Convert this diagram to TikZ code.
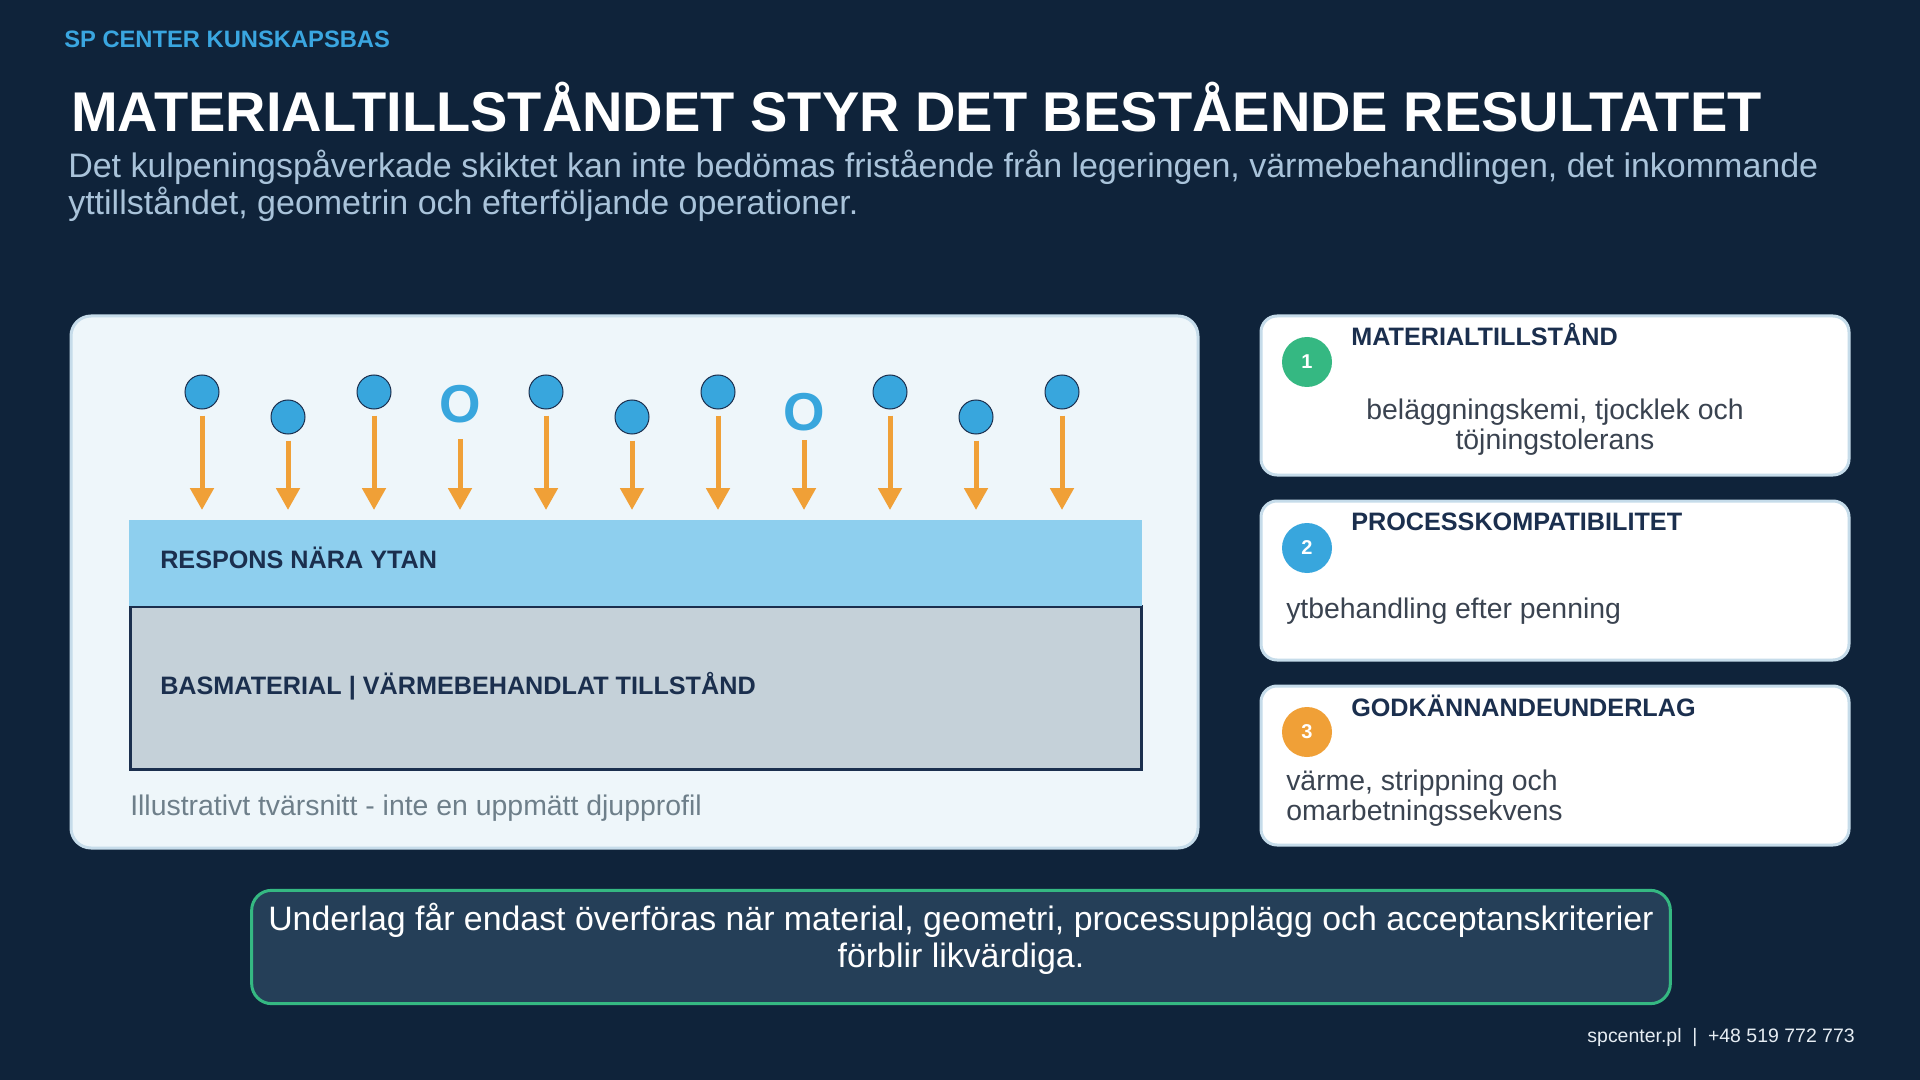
\documentclass[tikz,border=0pt]{standalone}
\usepackage{fontspec}
\setmainfont{Liberation Sans}
\usetikzlibrary{arrows.meta,positioning}

\definecolor{pagebg}{HTML}{0F233A}
\definecolor{kickerblue}{HTML}{3AA6E0}
\definecolor{leadgrey}{HTML}{A9C3DA}
\definecolor{panelfill}{HTML}{EEF6FA}
\definecolor{panelline}{HTML}{C6DCEA}
\definecolor{shotblue}{HTML}{38A6DD}
\definecolor{inknavy}{HTML}{1B2F4E}
\definecolor{hitorange}{HTML}{F0A037}
\definecolor{surfblue}{HTML}{8ECFEE}
\definecolor{coregrey}{HTML}{C5D1D9}
\definecolor{notegrey}{HTML}{6E7F8A}
\definecolor{bodygrey}{HTML}{3A4350}
\definecolor{okgreen}{HTML}{35B882}
\definecolor{bannerfill}{HTML}{253F58}
\definecolor{footwhite}{HTML}{E6EDF3}

\begin{document}
\begin{tikzpicture}[x=0.75pt, y=-0.75pt,
  every node/.style={inner sep=0pt},
  shot/.style={circle, draw=inknavy, line width=0.75pt, fill=shotblue, minimum size=25.5pt},
  miss/.style={text=shotblue, font=\fontsize{40}{40}\selectfont\bfseries},
  hit/.style={draw=hitorange, line width=3.75pt, -{Triangle[length=16.5pt, width=17.25pt]}},
  panel/.style={draw=panelline, line width=2.25pt, fill=panelfill, rounded corners=15pt},
  card/.style={draw=panelline, line width=2.25pt, fill=white, rounded corners=12pt},
  badge/.style={circle, minimum size=37.5pt, text=white, font=\fontsize{15}{15}\selectfont\bfseries},
  cardhead/.style={anchor=base west, text=inknavy, font=\fontsize{18.9}{18.9}\selectfont\bfseries},
  cardbody/.style={text=bodygrey, font=\fontsize{21.3}{22}\selectfont},
  layerlabel/.style={anchor=base west, text=inknavy, font=\fontsize{18.9}{18.9}\selectfont\bfseries}
]
\useasboundingbox[fill=pagebg] (0,0) rectangle (1920,1080);

% header
\node[anchor=base west, text=kickerblue, font=\fontsize{17.8}{17.8}\selectfont\bfseries] (kicker) at (64,48) {SP CENTER KUNSKAPSBAS};
\node[anchor=base west, text=white, font=\fontsize{42}{42}\selectfont\bfseries] (title) at (71,132) {MATERIALTILLSTÅNDET STYR DET BESTÅENDE RESULTATET};
\node[anchor=base west, align=left, text=leadgrey, font=\fontsize{25.5}{27.75}\selectfont] (lead) at (68,215)
  {Det kulpeningspåverkade skiktet kan inte bedömas fristående från legeringen, värmebehandlingen, det inkommande\\
   yttillståndet, geometrin och efterföljande operationer.};

% cross-section
\draw[panel] (71,316) rectangle (1198,848);
\draw[fill=coregrey, draw=inknavy, line width=2.25pt] (130,606) rectangle (1141,769);
\fill[surfblue] (129,520) rectangle (1142,606);
\node[layerlabel] (surflabel) at (160,568) {RESPONS NÄRA YTAN};
\node[layerlabel] (corelabel) at (160,694) {BASMATERIAL | VÄRMEBEHANDLAT TILLSTÅND};
\node[anchor=base west, text=notegrey, font=\fontsize{21.3}{21.3}\selectfont] (note) at (130,815) {Illustrativt tvärsnitt - inte en uppmätt djupprofil};

\foreach \i/\x/\y/\kind/\gap in {1/202/392/shot/4.5pt, 2/288/417/shot/4.5pt, 3/374/392/shot/4.5pt,
    4/460/404/miss/12pt, 5/546/392/shot/4.5pt, 6/632/417/shot/4.5pt, 7/718/392/shot/4.5pt,
    8/804/412/miss/6.75pt, 9/890/392/shot/4.5pt, 10/976/417/shot/4.5pt, 11/1062/392/shot/4.5pt}{
  \node[\kind] (b\i) at (\x,\y) {\ifnum\i=4 O\else\ifnum\i=8 O\fi\fi};
  \coordinate (t\i) at (\x,510);
  \draw[hit, shorten <=\gap] (b\i) -- (t\i);
}

% cards
\draw[card] (1261,316) rectangle (1849,475);
\draw[card] (1261,501) rectangle (1849,660);
\draw[card] (1261,686) rectangle (1849,845);

\node[badge, fill=okgreen] (n1) at (1307,362) {1};
\node[badge, fill=shotblue] (n2) at (1307,548) {2};
\node[badge, fill=hitorange] (n3) at (1307,732) {3};

\node[cardhead] (h1) at (1351,346) {MATERIALTILLSTÅND};
\node[cardhead] (h2) at (1351,530) {PROCESSKOMPATIBILITET};
\node[cardhead] (h3) at (1351,716) {GODKÄNNANDEUNDERLAG};

\node[cardbody, anchor=base, align=center] (d1) at (1555,449) {beläggningskemi, tjocklek och\\töjningstolerans};
\node[cardbody, anchor=base west] (d2) at (1286,618) {ytbehandling efter penning};
\node[cardbody, anchor=base west, align=left] (d3) at (1286,820) {värme, strippning och\\omarbetningssekvens};

% conclusion
\node[draw=okgreen, line width=2.25pt, fill=bannerfill, rounded corners=15pt,
  minimum width=1064pt, minimum height=85pt] (banner) at (961,947) {};
\node[anchor=base, align=center, text=white, font=\fontsize{25.4}{27.75}\selectfont] (verdict) at (961,967)
  {Underlag får endast överföras när material, geometri, processupplägg och acceptanskriterier\\förblir likvärdiga.};

\node[anchor=base east, text=footwhite, font=\fontsize{14.6}{14.6}\selectfont] (foot) at (1855,1042)
  {spcenter.pl\hskip0.55em|\hskip0.55em+48 519 772 773};
\end{tikzpicture}
\end{document}
